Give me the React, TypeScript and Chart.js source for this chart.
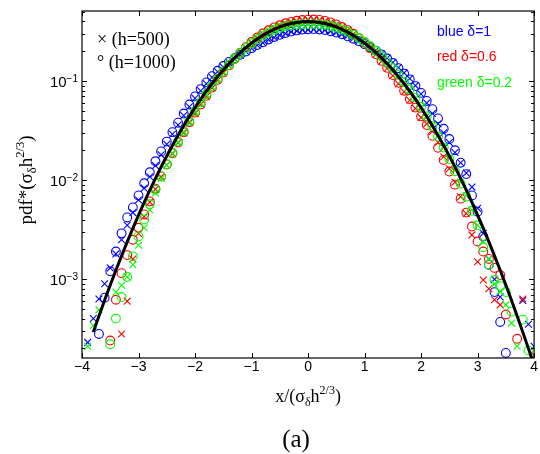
import React, { useEffect, useRef } from 'react';
import { Chart, registerables } from 'chart.js';
Chart.register(...registerables);

// x positions (x / (sigma_delta h^{2/3}))
const xs = [
  -3.9, -3.8, -3.7, -3.6, -3.5, -3.4, -3.3, -3.2, -3.1, -3.0,
  -2.9, -2.8, -2.7, -2.6, -2.5, -2.4, -2.3, -2.2, -2.1, -2.0,
  -1.9, -1.8, -1.7, -1.6, -1.5, -1.4, -1.3, -1.2, -1.1, -1.0,
  -0.9, -0.8, -0.7, -0.6, -0.5, -0.4, -0.3, -0.2, -0.1, 0.0,
  0.1, 0.2, 0.3, 0.4, 0.5, 0.6, 0.7, 0.8, 0.9, 1.0,
  1.1, 1.2, 1.3, 1.4, 1.5, 1.6, 1.7, 1.8, 1.9, 2.0,
  2.1, 2.2, 2.3, 2.4, 2.5, 2.6, 2.7, 2.8, 2.9, 3.0,
  3.1, 3.2, 3.3, 3.4, 3.5, 3.6, 3.7, 3.8, 3.9, 4.0,
];

// black reference curve
const gaussLine = [
  null, 2.92e-4, 4.25e-4, 6.12e-4, 8.73e-4, 1.23e-3, 1.72e-3, 2.38e-3, 3.27e-3, 4.43e-3,
  5.95e-3, 7.92e-3, 1.04e-2, 1.36e-2, 1.75e-2, 2.24e-2, 2.83e-2, 3.55e-2, 4.40e-2, 5.40e-2,
  0.0656, 0.0790, 0.0940, 0.1109, 0.1295, 0.1497, 0.1714, 0.1942, 0.2179, 0.2420,
  0.2661, 0.2897, 0.3123, 0.3332, 0.3521, 0.3683, 0.3814, 0.3910, 0.3970, 0.3989,
  0.3970, 0.3910, 0.3814, 0.3683, 0.3521, 0.3332, 0.3123, 0.2897, 0.2661, 0.2420,
  0.2179, 0.1942, 0.1714, 0.1497, 0.1295, 0.1109, 0.0940, 0.0790, 0.0656, 0.0540,
  0.0440, 0.0355, 0.0283, 0.0224, 0.0175, 0.0136, 0.0104, 0.00792, 0.00595, 0.00443,
  0.00327, 0.00238, 0.00172, 0.00123, 0.000873, 0.000612, 0.000425, 0.000292, 0.000199, 0.000134,
];

// blue delta=1, h=1000 (circles)
const blueO = [
  null, null, 2.8e-4, 6.5e-4, 1.2e-3, 1.9e-3, 2.9e-3, 4.2e-3, 5.3e-3, 7.0e-3,
  9.3e-3, 1.2e-2, 1.55e-2, 1.95e-2, 2.45e-2, 3.05e-2, 3.8e-2, 4.7e-2, 5.8e-2, 7.0e-2,
  0.083, 0.097, 0.112, 0.127, 0.142, 0.156, 0.170, 0.184, 0.199, 0.215,
  0.231, 0.247, 0.263, 0.279, 0.293, 0.305, 0.316, 0.325, 0.331, 0.334,
  0.335, 0.332, 0.327, 0.319, 0.309, 0.297, 0.283, 0.268, 0.252, 0.236,
  0.220, 0.203, 0.186, 0.169, 0.152, 0.135, 0.119, 0.104, 0.089, 0.076,
  0.063, 0.052, 0.042, 0.033, 0.026, 0.0200, 0.0150, 0.0115, 0.0070, 0.0048,
  0.0027, 0.0014, 0.00074, 0.00037, 0.00018, null, null, null, null, null,
];

// blue delta=1, h=500 (crosses)
const blueX = [
  2.3e-4, 4.0e-4, 6.3e-4, 9.0e-4, 1.3e-3, 1.8e-3, 2.5e-3, 3.5e-3, 4.7e-3, 6.3e-3,
  8.3e-3, 1.08e-2, 1.4e-2, 1.8e-2, 2.3e-2, 2.9e-2, 3.6e-2, 4.5e-2, 5.5e-2, 6.7e-2,
  0.080, 0.094, 0.109, 0.124, 0.139, 0.154, 0.168, 0.183, 0.198, 0.214,
  0.230, 0.244, 0.262, 0.275, 0.291, 0.302, 0.315, 0.321, 0.329, 0.330,
  0.333, 0.330, 0.327, 0.318, 0.310, 0.297, 0.285, 0.269, 0.254, 0.238,
  0.222, 0.205, 0.188, 0.171, 0.154, 0.137, 0.121, 0.106, 0.090, 0.074,
  0.060, 0.047, 0.037, 0.030, 0.024, 0.019, 0.0150, 0.0118, 0.0085, 0.0052,
  0.0029, 0.0016, 0.0010, 0.00066, null, null, null, 0.00061, 0.00035, 0.00021,
];

// red delta=0.6, h=1000 (circles)
const redO = [
  null, null, null, null, 2.4e-4, 6.2e-4, 1.15e-3, 1.75e-3, 2.5e-3, 3.3e-3,
  4.5e-3, 6.1e-3, 8.2e-3, 1.09e-2, 1.44e-2, 1.87e-2, 2.4e-2, 3.05e-2, 3.85e-2, 4.8e-2,
  0.058, 0.071, 0.086, 0.103, 0.122, 0.144, 0.167, 0.193, 0.220, 0.248,
  0.275, 0.302, 0.326, 0.348, 0.366, 0.383, 0.396, 0.406, 0.413, 0.417,
  0.418, 0.414, 0.405, 0.391, 0.373, 0.351, 0.327, 0.300, 0.272, 0.244,
  0.215, 0.187, 0.160, 0.136, 0.115, 0.096, 0.080, 0.066, 0.054, 0.044,
  0.036, 0.028, 0.0212, 0.0160, 0.0122, 0.0090, 0.0065, 0.0047, 0.0034, 0.0024,
  0.0019, 0.0016, 0.0013, 0.0011, 0.00044, null, 0.00025, null, null, null,
];

// red delta=0.6, h=500 (crosses)
const redX = [
  null, null, null, null, null, null, 2.8e-4, 6.0e-4, 1.6e-3, 2.9e-3,
  4.3e-3, 6.0e-3, 8.1e-3, 1.08e-2, 1.42e-2, 1.85e-2, 2.38e-2, 3.0e-2, 3.8e-2, 4.7e-2,
  0.058, 0.070, 0.085, 0.102, 0.121, 0.143, 0.166, 0.191, 0.218, 0.246,
  0.273, 0.300, 0.324, 0.345, 0.365, 0.381, 0.394, 0.404, 0.411, 0.415,
  0.416, 0.412, 0.403, 0.390, 0.372, 0.350, 0.326, 0.299, 0.271, 0.243,
  0.214, 0.186, 0.159, 0.134, 0.113, 0.094, 0.078, 0.064, 0.053, 0.043,
  0.037, 0.031, 0.024, 0.0172, 0.0130, 0.0095, 0.0068, 0.0046, 0.0028, 0.0015,
  0.00098, 0.00080, 0.00062, 0.00055, null, null, null, 0.00063, null, 0.00017,
];

// green delta=0.2, h=1000 (circles)
const greenO = [
  null, null, null, null, 2.2e-4, 4.0e-4, 6.6e-4, 1.05e-3, 1.7e-3, 2.7e-3,
  4.0e-3, 5.7e-3, 8.0e-3, 1.09e-2, 1.45e-2, 1.9e-2, 2.45e-2, 3.12e-2, 3.95e-2, 4.95e-2,
  0.061, 0.074, 0.089, 0.106, 0.125, 0.146, 0.168, 0.191, 0.215, 0.240,
  0.264, 0.288, 0.310, 0.330, 0.346, 0.358, 0.367, 0.372, 0.375, 0.376,
  0.376, 0.374, 0.369, 0.360, 0.348, 0.332, 0.314, 0.293, 0.271, 0.248,
  0.225, 0.201, 0.178, 0.156, 0.135, 0.116, 0.098, 0.082, 0.068, 0.055,
  0.044, 0.035, 0.0275, 0.0213, 0.0163, 0.0123, 0.0092, 0.0068, 0.0049, 0.0035,
  0.0021, 0.0014, 0.00098, 0.00085, 0.00074, 0.00047, null, 0.00039, 0.00019, null,
];

// green delta=0.2, h=500 (crosses)
const greenX = [
  2.1e-4, 3.4e-4, 4.9e-4, null, null, 7.4e-4, 8.7e-4, 1.05e-3, 1.4e-3, 2.2e-3,
  3.3e-3, 5.0e-3, 7.4e-3, 1.04e-2, 1.42e-2, 1.88e-2, 2.42e-2, 3.08e-2, 3.9e-2, 4.9e-2,
  0.060, 0.073, 0.088, 0.105, 0.124, 0.145, 0.167, 0.190, 0.214, 0.239,
  0.262, 0.287, 0.308, 0.328, 0.344, 0.357, 0.366, 0.371, 0.374, 0.375,
  0.375, 0.373, 0.368, 0.359, 0.347, 0.331, 0.313, 0.292, 0.270, 0.247,
  0.224, 0.200, 0.177, 0.155, 0.134, 0.115, 0.097, 0.081, 0.067, 0.055,
  0.0445, 0.0355, 0.028, 0.0217, 0.0167, 0.0127, 0.0095, 0.0070, 0.0050, 0.0035,
  0.0024, 0.0016, 0.00090, 0.00075, 0.00055, 0.00036, 0.00021, null, null, null,
];

const yDecades = [1e-3, 1e-2, 1e-1];
const yDecadeLabels = ['\u22123', '\u22122', '\u22121'];
const yMinorMultipliers = [2, 3, 4, 5, 6, 7, 8, 9];
const legendLeft = ['\u00d7 (h=500)', '\u00b0 (h=1000)'];
const legendRight = [
  { text: 'blue \u03b4=1', color: '#0000ff' },
  { text: 'red \u03b4=0.6', color: '#ff0000' },
  { text: 'green \u03b4=0.2', color: '#00ff00' },
];

const SERIF = '"Liberation Serif", "Times New Roman", serif';
const SANS = '"Liberation Sans", Arial, sans-serif';

function pts(ys: (number | null)[]) {
  const out: { x: number; y: number }[] = [];
  xs.forEach((x, i) => {
    const v = ys[i];
    if (v !== null && v !== undefined) out.push({ x, y: v });
  });
  return out;
}

type Seg = [string, number, number];
function drawRich(ctx: CanvasRenderingContext2D, segs: Seg[], x: number, y: number, align: 'left' | 'center') {
  const widths = segs.map((s) => {
    ctx.font = `${s[1]}px ${SERIF}`;
    return ctx.measureText(s[0]).width;
  });
  const total = widths.reduce((a, b) => a + b, 0);
  let cx = align === 'center' ? x - total / 2 : x;
  ctx.textAlign = 'left';
  ctx.textBaseline = 'alphabetic';
  segs.forEach((s, i) => {
    ctx.font = `${s[1]}px ${SERIF}`;
    ctx.fillText(s[0], cx, y + s[2]);
    cx += widths[i];
  });
}

const framePlugin = {
  id: 'frame',
  afterDraw(chart: any) {
    const ctx: CanvasRenderingContext2D = chart.ctx;
    const { left, right, top, bottom } = chart.chartArea;
    const xs_ = chart.scales.x;
    const ys_ = chart.scales.y;
    ctx.save();
    ctx.strokeStyle = '#000';
    ctx.fillStyle = '#000';
    ctx.lineWidth = 1.2;
    ctx.strokeRect(left, top, right - left, bottom - top);

    // x ticks (inward, bottom and top) + labels
    ctx.lineWidth = 1;
    ctx.font = `14px ${SANS}`;
    ctx.textAlign = 'center';
    ctx.textBaseline = 'alphabetic';
    xs_.ticks.forEach((t: any) => {
      const px = Math.round(xs_.getPixelForValue(t.value)) + 0.5;
      ctx.beginPath();
      ctx.moveTo(px, bottom);
      ctx.lineTo(px, bottom - 5);
      ctx.moveTo(px, top);
      ctx.lineTo(px, top + 5);
      ctx.stroke();
      const lab = t.value < 0 ? '\u2212' + Math.abs(t.value) : String(t.value);
      ctx.fillText(lab, xs_.getPixelForValue(t.value), 371);
    });

    // y ticks (major + minor, both sides)
    const decadesAll = [1e-4, 1e-3, 1e-2, 1e-1];
    decadesAll.forEach((d) => {
      [1, ...yMinorMultipliers].forEach((m) => {
        const v = d * m;
        if (v < ys_.min || v > ys_.max) return;
        const py = Math.round(ys_.getPixelForValue(v)) + 0.5;
        const len = m === 1 ? 5 : 3;
        ctx.beginPath();
        ctx.moveTo(left, py);
        ctx.lineTo(left + len, py);
        ctx.moveTo(right, py);
        ctx.lineTo(right - len, py);
        ctx.stroke();
      });
    });

    // y tick labels 10^k
    yDecades.forEach((d, i) => {
      const py = ys_.getPixelForValue(d);
      ctx.font = `10px ${SANS}`;
      const sw = ctx.measureText(yDecadeLabels[i]).width;
      ctx.font = `15px ${SANS}`;
      const bw = ctx.measureText('10').width;
      const xr = 78;
      ctx.textAlign = 'left';
      ctx.fillText('10', xr - sw - bw, py + 6);
      ctx.font = `10px ${SANS}`;
      ctx.fillText(yDecadeLabels[i], xr - sw, py + 1);
    });

    // axis titles
    drawRich(ctx, [['x/(\u03c3', 18, 0], ['\u03b4', 12, 4], ['h', 18, 0], ['2/3', 12, -8], [')', 18, 0]], (left + right) / 2, 402, 'center');
    ctx.save();
    ctx.translate(32, 180);
    ctx.rotate(-Math.PI / 2);
    drawRich(ctx, [['pdf*(\u03c3', 19, 0], ['\u03b4', 12.5, 4], ['h', 19, 0], ['2/3', 12.5, -8], [')', 19, 0]], 0, 0, 'center');
    ctx.restore();

    // caption
    ctx.font = `25px ${SERIF}`;
    ctx.textAlign = 'center';
    ctx.fillText('(a)', 296, 447);

    // left legend
    ctx.textAlign = 'left';
    ctx.font = `18px ${SERIF}`;
    ctx.fillText(legendLeft[0], 97, 45);
    ctx.fillText(legendLeft[1], 97, 68);

    // right legend
    ctx.font = `14px ${SANS}`;
    const baselines = [35.5, 61, 87];
    legendRight.forEach((l, i) => {
      ctx.fillStyle = l.color;
      ctx.fillText(l.text, 437, baselines[i]);
    });
    ctx.restore();
  },
};

function markerSet(label: string, data: (number | null)[], color: string, style: string, order: number) {
  return {
    label,
    data: pts(data),
    showLine: false,
    pointStyle: style,
    pointRadius: style === 'circle' ? 4.4 : 4.8,
    pointBorderWidth: 1.1,
    borderColor: color,
    backgroundColor: 'rgba(0,0,0,0)',
    pointBackgroundColor: 'rgba(0,0,0,0)',
    order,
  };
}

export default function App() {
  const ref = useRef<HTMLCanvasElement | null>(null);
  useEffect(() => {
    if (!ref.current) return;
    const chart = new Chart(ref.current, {
      type: 'scatter',
      data: {
        datasets: [
          {
            label: 'gauss',
            data: pts(gaussLine),
            showLine: true,
            borderColor: '#000',
            borderWidth: 3,
            pointRadius: 0,
            tension: 0,
            order: 0,
          } as any,
          markerSet('green h=500', greenX, '#00ff00', 'crossRot', 1),
          markerSet('green h=1000', greenO, '#00ff00', 'circle', 2),
          markerSet('red h=500', redX, '#ff0000', 'crossRot', 3),
          markerSet('red h=1000', redO, '#ff0000', 'circle', 4),
          markerSet('blue h=500', blueX, '#0000ff', 'crossRot', 5),
          markerSet('blue h=1000', blueO, '#0000ff', 'circle', 6),
        ],
      },
      options: {
        animation: false,
        responsive: false,
        devicePixelRatio: 1,
        layout: { padding: { left: 0, top: 11, right: 3, bottom: 0 } },
        plugins: { legend: { display: false }, tooltip: { enabled: false } },
        scales: {
          x: {
            type: 'linear',
            min: -4,
            max: 4,
            ticks: { display: false, stepSize: 1 },
            grid: { display: false },
            border: { display: false },
            afterFit: (s: any) => { s.height = 96; },
          },
          y: {
            type: 'logarithmic',
            min: 1.6e-4,
            max: 0.51,
            ticks: { display: false },
            grid: { display: false },
            border: { display: false },
            afterFit: (s: any) => { s.width = 82; },
          },
        },
      } as any,
      plugins: [framePlugin],
    });
    return () => chart.destroy();
  }, []);
  return (
    <div style={{ position: 'absolute', left: 0, top: 0, width: 540, height: 454, background: '#fff' }}>
      <canvas ref={ref} width={540} height={454} style={{ display: 'block' }} />
    </div>
  );
}
